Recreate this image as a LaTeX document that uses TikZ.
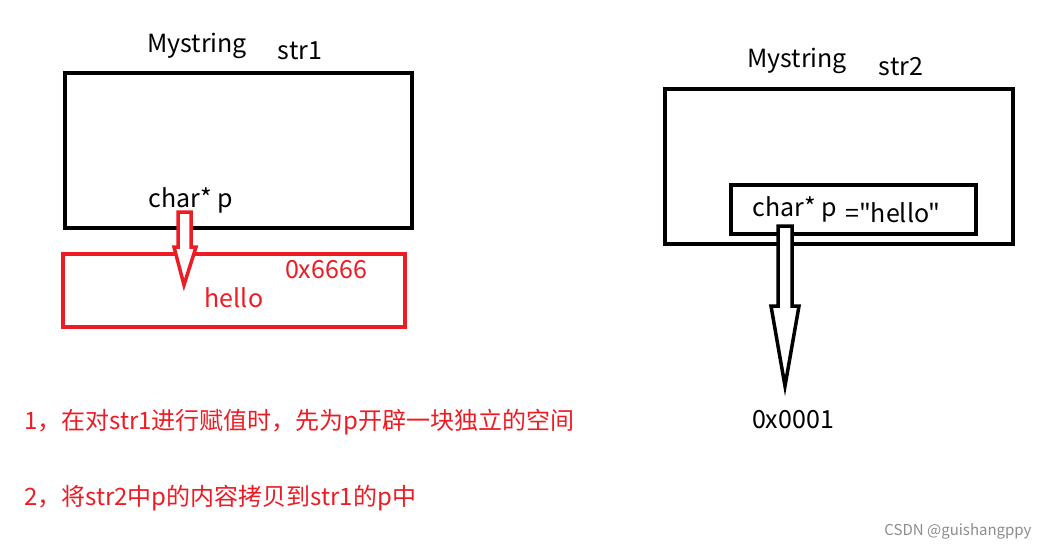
\documentclass[tikz,border=0pt]{standalone}
\usepackage{fontspec}
\setmainfont{Noto Sans CJK SC}
\newfontfamily\qfont{Noto Sans CJK SC}[Ligatures=TeXOff]
\usepackage{tikz}
\usetikzlibrary{positioning}
\definecolor{memred}{RGB}{237,28,36}
\tikzset{
  membox/.style={draw,line width=4pt},
  redbox/.style={draw=memred,line width=3.5pt},
  lbl/.style={font=\fontsize{25}{29}\selectfont,inner sep=0pt},
  redlbl/.style={lbl,text=memred},
  note/.style={font=\fontsize{24}{28}\selectfont,inner sep=0pt,text=memred,anchor=west},
  hollowarrow/.style={line width=3.5pt,line join=miter,fill=white}
}
\begin{document}
\begin{tikzpicture}[x=1pt,y=-1pt]
    \useasboundingbox (0,0) rectangle (1053,551);
    % str1
    \node[membox,minimum width=347pt,minimum height=155pt,inner sep=0pt] (s1) at (238.5,150.5) {};
    \node[lbl] (t1) at (197,46) {Mystring};
    \node[lbl] (n1) at (300,51) {str1};
    \node[lbl] (p1) at (191,200) {char* p};
    \node[redbox,minimum width=342pt,minimum height=73pt,inner sep=0pt] (h1) at (234,290.5) {};
    \node[redlbl] (a1) at (326,270) {0x6666};
    \node[redlbl] (v1) at (234,298) {hello};
    \draw[hollowarrow,draw=memred] (178,212) -- (191,212) -- (191,247) -- (196,247)
      -- (184,285) -- (174,247) -- (178,247) -- cycle;
    % str2
    \node[membox,minimum width=348pt,minimum height=155pt,inner sep=0pt] (s2) at (839,166.5) {};
    \node[lbl] (t2) at (797,61) {Mystring};
    \node[lbl] (n2) at (901,67) {str2};
    \node[membox,minimum width=245pt,minimum height=49pt,inner sep=0pt] (p2) at (853.5,209.5) {};
    \node[lbl] (c2) at (795,209) {char* p};
    \node[lbl,anchor=west] (e2) at (845,213) {\qfont ="hello"};
    \draw[hollowarrow] (778,226) -- (792,226) -- (792,306) -- (799,306)
      -- (785,386) -- (771,306) -- (778,306) -- cycle;
    \node[lbl] (a2) at (793,420) {0x0001};
    % notes
    \node[note] (l1) at (24,422) {1，在对str1进行赋值时，先为p开辟一块独立的空间};
    \node[note] (l2) at (24,498) {2，将str2中p的内容拷贝到str1的p中};
    \node[inner sep=0pt,text=black!45,font=\fontsize{15}{18}\selectfont] (wm) at (958,531) {CSDN @guishangppy};
  \end{tikzpicture}
\end{document}
